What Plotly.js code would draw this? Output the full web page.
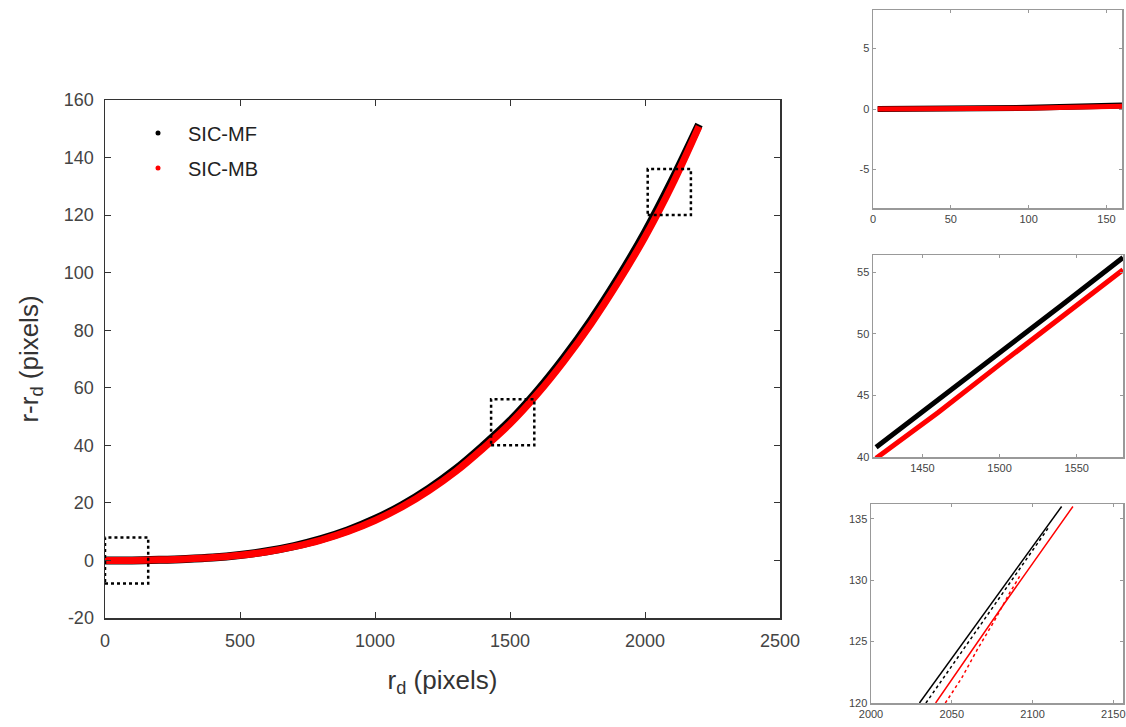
<!DOCTYPE html>
<html>
<head>
<meta charset="utf-8">
<script src="https://cdn.plot.ly/plotly-3.0.1.min.js"></script>
<style>html,body{margin:0;padding:0;background:#fff;}#chart{width:1126px;height:727px;}</style>
</head>
<body>
<div id="chart"></div>
<script>
// ---- main plot data (r_d in pixels, r - r_d in pixels) ----
const rd = [0,100,200,300,400,500,600,700,800,900,1000,1100,1200,1300,1400,1500,1600,1700,1800,1900,2000,2100,2200];
const mfMain = [0,0,0.2,0.5,1.0,1.9,3.2,5.0,7.4,10.5,14.4,19.2,25.0,31.8,39.8,48.5,58.8,70.5,83.5,98.0,114.0,132.0,151.5];
const mbMain = [0,0,0.2,0.5,1.0,1.8,3.0,4.8,7.1,10.1,13.9,18.6,24.3,31.0,38.9,47.5,57.7,69.3,82.2,96.6,112.4,130.4,150.8];

// ---- inset 1 (0..160) ----
const x1 = [3,20,40,60,80,100,120,140,160];
const mf1 = [0,0,0,0.02,0.06,0.1,0.16,0.22,0.3];
const mb1 = [0,0,-0.02,0,0.03,0.07,0.12,0.17,0.22];

// ---- inset 2 (1420..1580) ----
const x2 = [1420,1460,1500,1540,1580];
const mf2 = [40.8,44.6,48.5,52.3,56.2];
const mb2 = [39.9,43.6,47.5,51.3,55.2];

// ---- inset 3 (2000..2160) ----
const x3mf = [2030,2074,2118];
const y3mf = [120,128,136];
const x3mfDot = [2034,2050,2066,2082,2098,2110];
const y3mfDot = [120,123,126,129,132,134.3];
const x3mb = [2040,2082,2125];
const y3mb = [120,128,136];
const x3mbDot = [2046,2056,2066,2076,2086,2092];
const y3mbDot = [120,122,124.4,126.6,129,130.3];

// ---- legend names, tick labels and zoom boxes ----
const seriesNames = ['SIC-MF','SIC-MB'];
const mainYTicks = [-20,0,20,40,60,80,100,120,140,160];
const mainYText = ['-20','0','20','40','60','80','100','120','140','160'];
const inset1YTicks = [-5,0,5];
const inset1YText = ['-5','0','5'];
const boxX = [[0,160],[1430,1590],[2010,2170]];
const boxY = [[-8,8],[40,56],[120,136]];

const BLACK = '#000000', RED = '#ff0000';

const traces = [
  {x: rd, y: mfMain, mode:'lines', line:{color:BLACK, width:8, shape:'spline', smoothing:1}, showlegend:false, xaxis:'x', yaxis:'y'},
  {x: rd, y: mbMain, mode:'lines', line:{color:RED, width:7, shape:'spline', smoothing:1}, showlegend:false, xaxis:'x', yaxis:'y'},
  {x:[null], y:[null], mode:'markers', name:seriesNames[0], marker:{color:BLACK, size:5}, xaxis:'x', yaxis:'y', legend:'legend'},
  {x:[null], y:[null], mode:'markers', name:seriesNames[1], marker:{color:RED, size:5}, xaxis:'x', yaxis:'y', legend:'legend2'},

  {x: x1, y: mf1, mode:'lines', line:{color:BLACK, width:6}, showlegend:false, xaxis:'x2', yaxis:'y2'},
  {x: x1, y: mb1, mode:'lines', line:{color:RED, width:5}, showlegend:false, xaxis:'x2', yaxis:'y2'},

  {x: x2, y: mf2, mode:'lines', line:{color:BLACK, width:5}, showlegend:false, xaxis:'x3', yaxis:'y3'},
  {x: x2, y: mb2, mode:'lines', line:{color:RED, width:5}, showlegend:false, xaxis:'x3', yaxis:'y3'},

  {x: x3mf, y: y3mf, mode:'lines', line:{color:BLACK, width:1.5}, showlegend:false, xaxis:'x4', yaxis:'y4'},
  {x: x3mfDot, y: y3mfDot, mode:'lines', line:{color:BLACK, width:1.5, dash:'dot'}, showlegend:false, xaxis:'x4', yaxis:'y4'},
  {x: x3mb, y: y3mb, mode:'lines', line:{color:RED, width:1.5}, showlegend:false, xaxis:'x4', yaxis:'y4'},
  {x: x3mbDot, y: y3mbDot, mode:'lines', line:{color:RED, width:1.5, dash:'dot'}, showlegend:false, xaxis:'x4', yaxis:'y4'}
];

const W = 1126, H = 727;
const dx = (a,b)=>[a/W, b/W];
const dy = (top,bot)=>[(H-bot)/H, (H-top)/H];

const FONT = 'Liberation Sans, Arial, sans-serif';
const mainTick = {family:FONT, size:18, color:'#444'};
const insetTick = {family:FONT, size:11, color:'#444'};

function insetAxis(domain, range, dtick, anchor){
  return {domain:domain, range:range, dtick:dtick, anchor:anchor, showgrid:false, zeroline:false,
    showline:true, mirror:'ticks', linecolor:'#999', linewidth:1.5, ticks:'inside', ticklen:3, tickcolor:'#999',
    tickfont:insetTick};
}

const shapes = boxX.map((bx,i)=>({type:'rect', xref:'x', yref:'y', x0:bx[0], x1:bx[1], y0:boxY[i][0], y1:boxY[i][1],
  line:{color:BLACK, width:2.5, dash:'dot'}, fillcolor:'rgba(0,0,0,0)'}));

const legendBase = {xanchor:'left', yanchor:'middle', bgcolor:'rgba(0,0,0,0)', font:{size:20, color:'#222', family:FONT}, itemwidth:50};

const yax2 = insetAxis(dy(10,208), [-8.2,8.2], 5, 'x2');
yax2.tickmode = 'array'; yax2.tickvals = inset1YTicks; yax2.ticktext = inset1YText;

const layout = {
  width:W, height:H,
  margin:{l:0, r:0, t:0, b:0},
  paper_bgcolor:'#fff', plot_bgcolor:'#fff',
  font:{family:FONT, color:'#333'},
  showlegend:true,
  legend:Object.assign({x:128/W, y:1-133/H}, legendBase),
  legend2:Object.assign({x:128/W, y:1-168/H}, legendBase),
  xaxis:{domain:dx(105,780), range:[0,2500], dtick:500, anchor:'y', showgrid:false, zeroline:false,
    showline:true, mirror:'ticks', linecolor:'#333', linewidth:1.5, ticks:'inside', ticklen:6, tickcolor:'#333',
    tickfont:mainTick, ticklabelstandoff:6,
    title:{text:'r<sub>d</sub> (pixels)', font:{size:26, color:'#333', family:FONT}, standoff:20}},
  yaxis:{domain:dy(100,618), range:[-20,160], tickmode:'array', tickvals:mainYTicks, ticktext:mainYText, anchor:'x', showgrid:false, zeroline:false,
    showline:true, mirror:'ticks', linecolor:'#333', linewidth:1.5, ticks:'inside', ticklen:6, tickcolor:'#333',
    tickfont:mainTick, ticklabelstandoff:6,
    title:{text:'r-r<sub>d</sub> (pixels)', font:{size:26, color:'#333', family:FONT}, standoff:18}},
  xaxis2:insetAxis(dx(873,1122), [0,160], 50, 'y2'),
  yaxis2:yax2,
  xaxis3:insetAxis(dx(873,1123), [1418,1580], 50, 'y3'),
  yaxis3:insetAxis(dy(255,457), [40,56.4], 5, 'x3'),
  xaxis4:insetAxis(dx(871,1123), [2000,2156], 50, 'y4'),
  yaxis4:insetAxis(dy(504,703), [120,136.2], 5, 'x4'),
  shapes:shapes
};

Plotly.newPlot('chart', traces, layout, {displayModeBar:false, staticPlot:true});
</script>
</body>
</html>
